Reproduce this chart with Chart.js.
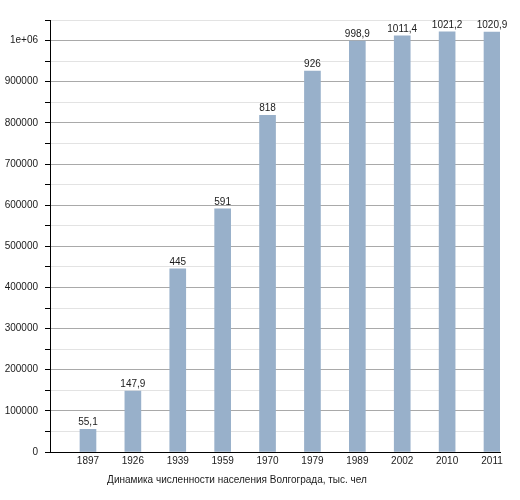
<!DOCTYPE html>
<html>
<head>
<meta charset="utf-8">
<script src="https://cdn.jsdelivr.net/npm/chart.js@4"></script>
<style>
  html, body { margin: 0; padding: 0; background: #fff; }
  #wrap { width: 520px; height: 500px; }
</style>
</head>
<body>
<div id="wrap"><canvas id="myChart" width="520" height="500"></canvas></div>
<script>
// census years and population of Volgograd
const years = ['1897', '1926', '1939', '1959', '1970', '1979', '1989', '2002', '2010', '2011'];
const population = [55100, 147900, 445000, 591000, 818000, 926000, 998900, 1011400, 1021200, 1020900];
const caption = 'Динамика численности населения Волгограда, тыс. чел';

const barColor = '#98b0ca';
const textColor = '#1a1a1a';
const font = { family: 'Liberation Sans, Arial, sans-serif', size: 10 };

// value in thousands with a comma, as on the original picture
function thousands(v) {
    return String(v / 1000).replace('.', ',');
}

function yLabel(v) {
    if (v % 100000 !== 0) return '';
    if (v === 1000000) return '1e+06';
    return String(v);
}

const valueLabels = {
    id: 'valueLabels',
    afterDatasetsDraw(chart) {
        const ctx = chart.ctx;
        ctx.save();
        ctx.font = font.size + 'px ' + font.family;
        ctx.fillStyle = textColor;
        ctx.textAlign = 'center';
        ctx.textBaseline = 'alphabetic';
        chart.getDatasetMeta(0).data.forEach((bar, i) => {
            ctx.fillText(thousands(population[i]), bar.x, bar.y - 4);
        });
        ctx.restore();
    }
};

const captionPlugin = {
    id: 'caption',
    afterDraw(chart) {
        const ctx = chart.ctx;
        ctx.save();
        ctx.font = font.size + 'px ' + font.family;
        ctx.fillStyle = textColor;
        ctx.textAlign = 'center';
        ctx.textBaseline = 'middle';
        ctx.fillText(caption, 237, 480);
        ctx.restore();
    }
};

new Chart(document.getElementById('myChart').getContext('2d'), {
    type: 'bar',
    data: {
        datasets: [{
            data: population.map((v, i) => ({ x: i, y: v })),
            backgroundColor: barColor,
            borderWidth: 0,
            barThickness: 16
        }]
    },
    options: {
        responsive: false,
        animation: false,
        layout: { padding: { top: 20, right: 20, left: 0, bottom: 0 } },
        plugins: {
            legend: { display: false },
            tooltip: { enabled: false }
        },
        scales: {
            x: {
                type: 'linear',
                offset: false,
                min: -0.846,
                max: 9.178,
                afterBuildTicks: scale => { scale.ticks = years.map((_, i) => ({ value: i })); },
                afterFit: scale => { scale.height = 48; },
                grid: { display: false, drawTicks: false, tickLength: 0 },
                border: { display: true, color: '#000', width: 1 },
                ticks: {
                    autoSkip: false,
                    maxRotation: 0,
                    padding: 3,
                    color: textColor,
                    font: font,
                    callback: v => years[v] || ''
                }
            },
            y: {
                min: 0,
                max: 1050000,
                afterFit: scale => { scale.width = 50; },
                afterBuildTicks: scale => {
                    const t = [];
                    for (let v = 0; v <= 1050000; v += 25000) t.push({ value: v });
                    scale.ticks = t;
                },
                grid: {
                    color: c => (c.tick && c.tick.value % 100000 === 0) ? '#a9a9a9' : '#e3e3e3',
                    tickColor: '#000',
                    tickLength: 5
                },
                border: { display: true, color: '#000', width: 1 },
                ticks: {
                    padding: 7,
                    color: textColor,
                    font: font,
                    callback: v => yLabel(v)
                }
            }
        }
    },
    plugins: [valueLabels, captionPlugin]
});
</script>
</body>
</html>
